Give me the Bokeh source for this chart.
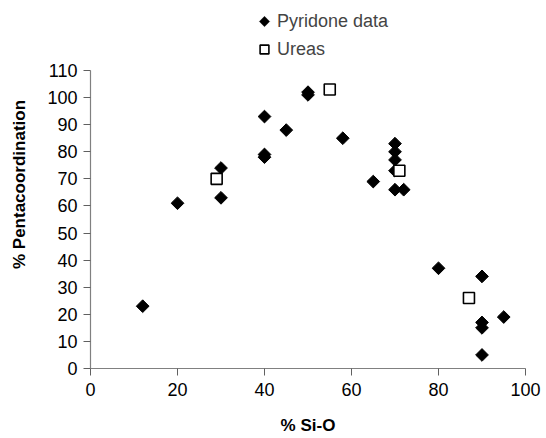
import math
from bokeh.plotting import figure
from bokeh.models import Legend, LegendItem, Range1d, FixedTicker, PolyAnnotation
from bokeh.embed import file_html
from bokeh.resources import INLINE

# Data
pyr_x = [12, 20, 30, 30, 40, 40, 40, 45, 50, 50, 58, 65, 70, 70, 70, 70, 70, 72, 80, 90, 90, 90, 90, 95]
pyr_y = [23, 61, 74, 63, 93, 79, 78, 88, 102, 101, 85, 69, 83, 80, 77, 73, 66, 66, 37, 34, 17, 15, 5, 19]
urea_x = [29, 55, 71, 87]
urea_y = [70, 103, 73, 26]
x_ticks = [0, 20, 40, 60, 80, 100]
y_ticks = [0, 10, 20, 30, 40, 50, 60, 70, 80, 90, 100, 110]
y_axis_max = 110

FONT = "Liberation Sans"

# layout (pixels)
BORDER_L, BORDER_R, BORDER_B = 90, 21, 70
AXIS_TOP = 70
FIG_W, FIG_H = 546, 438
frame_h = FIG_H - BORDER_B
px_per_unit = (frame_h - AXIS_TOP) / y_axis_max
y_top = y_axis_max + AXIS_TOP / px_per_unit  # frame reaches the top so the legend is not clipped

p = figure(width=FIG_W, height=FIG_H, output_backend="svg", toolbar_location=None,
           x_range=Range1d(0, 100), y_range=Range1d(0, y_top),
           min_border_left=BORDER_L, min_border_right=BORDER_R, min_border_top=0,
           min_border_bottom=BORDER_B)
p.outline_line_color = None
p.xgrid.visible = False
p.ygrid.visible = False
p.background_fill_color = "white"
p.border_fill_color = "white"

r1 = p.scatter(pyr_x, pyr_y, marker="square", size=9, angle=math.pi / 4,
               fill_color="black", line_color="black", line_width=1)
r2 = p.scatter(urea_x, urea_y, marker="square", size=11,
               fill_color="white", line_color="black", line_width=1.6)
# invisible stand-in so the legend key can be drawn as a rotated square
r1_key = p.scatter([], [], marker="square", size=9, fill_alpha=0, line_alpha=0)

for ax, ticks in ((p.xaxis, x_ticks), (p.yaxis, y_ticks)):
    ax.ticker = FixedTicker(ticks=ticks)
    ax.axis_line_color = "#808080"
    ax.axis_line_width = 1.2
    ax.major_tick_line_color = "#606060"
    ax.major_tick_out = 7
    ax.major_tick_in = 0
    ax.minor_tick_line_color = None
    ax.major_label_text_font = FONT
    ax.major_label_text_font_size = "18px"
    ax.major_label_text_color = "black"
    ax.axis_label_text_font = FONT
    ax.axis_label_text_font_size = "17px"
    ax.axis_label_text_font_style = "bold"
    ax.axis_label_text_color = "black"

p.yaxis.bounds = (0, y_axis_max)
p.xaxis.axis_label = "% Si-O"
p.yaxis.axis_label = "% Pentacoordination"
p.xaxis.major_label_standoff = 7
p.yaxis.major_label_standoff = 6
p.xaxis.axis_label_standoff = 17
p.yaxis.axis_label_standoff = 15

# legend placement
LEG_X = 163          # from frame left
LEG_BOTTOM = 60      # page y of legend bottom
GLYPH = 22
SPACING = 6
legend = Legend(items=[LegendItem(label="Pyridone data", renderers=[r1_key]),
                       LegendItem(label="Ureas", renderers=[r2])],
                location=(LEG_X, frame_h - LEG_BOTTOM), orientation="vertical")
legend.label_text_font = FONT
legend.label_text_font_size = "18px"
legend.glyph_width = GLYPH
legend.glyph_height = GLYPH
legend.label_standoff = 2
legend.spacing = SPACING
legend.padding = 0
legend.margin = 0
legend.border_line_color = None
legend.background_fill_alpha = 0
p.add_layout(legend, "center")

# diamond legend key in screen units (relative to frame, y up) at the first legend slot
cx = LEG_X + GLYPH / 2
cy_page = LEG_BOTTOM - (2 * GLYPH + SPACING) + GLYPH / 2
cy = frame_h - cy_page
hd = 5.2
key = PolyAnnotation(xs=[cx, cx + hd, cx, cx - hd], ys=[cy + hd, cy, cy - hd, cy],
                     xs_units="screen", ys_units="screen",
                     fill_color="black", fill_alpha=1, line_color="black", line_width=1)
p.add_layout(key)

open("out.html", "w").write(file_html(p, INLINE))
